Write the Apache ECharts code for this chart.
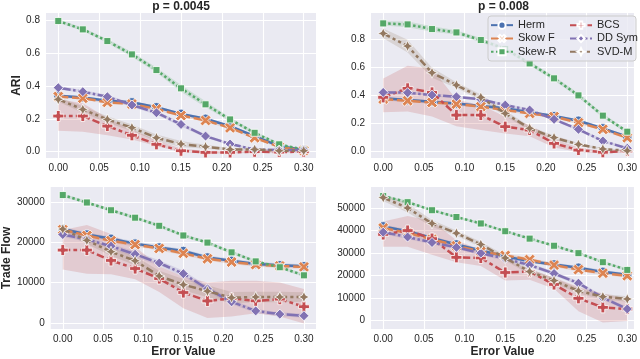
<!DOCTYPE html>
<html><head><meta charset="utf-8">
<script src="https://cdn.jsdelivr.net/npm/echarts@6/dist/echarts.min.js"></script>
<style>html,body{margin:0;padding:0;background:#fff}#c{width:640px;height:359px}</style>
</head><body><div id="c"></div>
<script>
// ---------- data ----------
const xVals = [0, 0.03, 0.06, 0.09, 0.12, 0.15, 0.18, 0.21, 0.24, 0.27, 0.30];
const seriesNames = ['Herm', 'Skow F', 'Skew-R', 'BCS', 'DD Sym', 'SVD-M'];
const xTicks = [0, 0.05, 0.10, 0.15, 0.20, 0.25, 0.30];
const ariTicks = [0, 0.2, 0.4, 0.6, 0.8];
const tfTicksA = [0, 10000, 20000, 30000];
const tfTicksB = [0, 10000, 20000, 30000, 40000, 50000];
const panelTitles = ['p = 0.0045', 'p = 0.008'];

// Panel 1: ARI, p = 0.0045
const ari1Herm   = [0.34, 0.33, 0.31, 0.30, 0.27, 0.23, 0.20, 0.155, 0.095, 0.034, 0.012];
const ari1HermCI = [0.008, 0.008, 0.008, 0.008, 0.008, 0.008, 0.008, 0.008, 0.007, 0.006, 0.004];
const ari1SkowF   = [0.335, 0.325, 0.30, 0.29, 0.26, 0.22, 0.19, 0.145, 0.085, 0.03, 0.008];
const ari1SkowFCI = [0.008, 0.008, 0.008, 0.008, 0.008, 0.008, 0.008, 0.008, 0.007, 0.006, 0.004];
const ari1SkewR   = [0.794, 0.743, 0.672, 0.591, 0.496, 0.385, 0.288, 0.196, 0.115, 0.045, 0.012];
const ari1SkewRCI = [0.01, 0.01, 0.012, 0.015, 0.015, 0.02, 0.018, 0.012, 0.01, 0.008, 0.005];
const ari1BCS   = [0.217, 0.217, 0.156, 0.10, 0.045, 0.006, -0.004, -0.004, 0.0, -0.002, 0.0];
const ari1BCSLo = [0.128, 0.122, 0.10, 0.075, 0.035, -0.002, -0.01, -0.01, -0.006, -0.008, -0.006];
const ari1BCSHi = [0.318, 0.295, 0.205, 0.135, 0.07, 0.02, 0.004, 0.004, 0.006, 0.004, 0.006];
const ari1DDSym   = [0.389, 0.365, 0.334, 0.284, 0.237, 0.166, 0.095, 0.047, 0.014, 0.01, 0.01];
const ari1DDSymCI = [0.01, 0.01, 0.01, 0.012, 0.012, 0.012, 0.01, 0.008, 0.005, 0.004, 0.004];
const ari1SVDM   = [0.318, 0.257, 0.196, 0.146, 0.085, 0.047, 0.03, 0.014, 0.014, 0.006, 0.006];
const ari1SVDMCI = [0.015, 0.02, 0.02, 0.02, 0.02, 0.018, 0.012, 0.008, 0.006, 0.004, 0.004];

// Panel 2: ARI, p = 0.008
const ari2Herm   = [0.379, 0.367, 0.355, 0.343, 0.324, 0.308, 0.28, 0.253, 0.22, 0.166, 0.106];
const ari2HermCI = [0.01, 0.01, 0.01, 0.01, 0.01, 0.01, 0.01, 0.01, 0.01, 0.01, 0.01];
const ari2SkowF   = [0.374, 0.362, 0.35, 0.338, 0.32, 0.296, 0.272, 0.249, 0.206, 0.159, 0.099];
const ari2SkowFCI = [0.01, 0.01, 0.01, 0.01, 0.01, 0.01, 0.01, 0.01, 0.01, 0.01, 0.01];
const ari2SkewR   = [0.911, 0.904, 0.871, 0.847, 0.793, 0.73, 0.627, 0.521, 0.40, 0.256, 0.142];
const ari2SkewRCI = [0.015, 0.02, 0.02, 0.015, 0.015, 0.015, 0.015, 0.015, 0.015, 0.015, 0.012];
const ari2BCS   = [0.386, 0.45, 0.421, 0.26, 0.26, 0.178, 0.154, 0.059, 0.012, -0.004, 0.005];
const ari2BCSLo = [0.28, 0.285, 0.25, 0.18, 0.155, 0.13, 0.11, 0.03, -0.002, -0.012, -0.006];
const ari2BCSHi = [0.52, 0.61, 0.59, 0.37, 0.33, 0.25, 0.19, 0.09, 0.03, 0.006, 0.016];
const ari2DDSym   = [0.421, 0.419, 0.402, 0.39, 0.372, 0.331, 0.296, 0.23, 0.159, 0.076, 0.024];
const ari2DDSymCI = [0.01, 0.01, 0.01, 0.01, 0.01, 0.01, 0.01, 0.01, 0.01, 0.01, 0.008];
const ari2SVDM   = [0.84, 0.75, 0.561, 0.473, 0.386, 0.272, 0.166, 0.10, 0.052, 0.019, 0.007];
const ari2SVDMCI = [0.035, 0.045, 0.035, 0.02, 0.02, 0.02, 0.015, 0.015, 0.01, 0.008, 0.005];

// Panel 3: Trade Flow, p = 0.0045
const tf1Herm   = [23320, 21960, 20910, 19700, 18740, 17860, 16250, 15440, 14640, 14320, 14080];
const tf1HermCI = [500, 500, 500, 500, 500, 500, 500, 500, 500, 500, 500];
const tf1SkowF   = [23160, 21720, 20430, 19460, 18500, 17290, 15930, 15120, 14480, 14160, 13910];
const tf1SkowFCI = [500, 500, 500, 500, 500, 500, 500, 500, 500, 500, 500];
const tf1SkewR   = [31770, 29920, 27990, 26140, 24130, 21720, 19950, 17530, 15280, 13830, 11820];
const tf1SkewRCI = [400, 400, 400, 400, 400, 400, 400, 400, 400, 400, 400];
const tf1BCS   = [18100, 18100, 15520, 13510, 11020, 7550, 5450, 6100, 5470, 5900, 4020];
const tf1BCSLo = [13270, 12230, 12060, 10860, 7650, 3620, 1210, 1610, 2410, 1610, -150];
const tf1BCSHi = [23100, 24300, 22100, 18900, 14100, 11500, 10050, 10460, 10460, 10050, 8440];
const tf1DDSym   = [21960, 20750, 19060, 17050, 14880, 12230, 8450, 5230, 2980, 2170, 1770];
const tf1DDSymCI = [600, 600, 600, 700, 700, 700, 700, 600, 500, 500, 500];
const tf1SVDM   = [23320, 20510, 17690, 15440, 11660, 9490, 7880, 6270, 6430, 6430, 6430];
const tf1SVDMCI = [700, 900, 1000, 1100, 1300, 1400, 1500, 1400, 1300, 1300, 1200];

// Panel 4: Trade Flow, p = 0.008
const tf2Herm   = [41820, 39660, 36640, 33770, 31040, 28450, 26300, 24860, 23420, 21560, 20260];
const tf2HermCI = [800, 800, 800, 800, 800, 800, 800, 800, 800, 800, 800];
const tf2SkowF   = [41100, 38940, 36070, 33190, 30610, 28880, 27020, 24570, 22560, 20980, 19830];
const tf2SkowFCI = [800, 800, 800, 800, 800, 800, 800, 800, 800, 800, 800];
const tf2SkewR   = [55300, 52590, 49000, 45980, 43100, 39650, 36350, 33190, 29890, 25870, 22420];
const tf2SkewRCI = [600, 600, 600, 600, 600, 600, 600, 600, 600, 600, 600];
const tf2BCS   = [38220, 39950, 36360, 28020, 27730, 21270, 21700, 15950, 9770, 5750, 5030];
const tf2BCSLo = [32750, 32750, 29140, 25860, 24130, 17670, 18100, 14050, 4010, -1030, -300];
const tf2BCSHi = [43960, 46380, 44220, 35600, 31290, 26980, 22670, 19090, 14780, 11900, 9500];
const tf2DDSym   = [39230, 37070, 34630, 32480, 29890, 27450, 24570, 20840, 16530, 10060, 5030];
const tf2DDSymCI = [900, 900, 900, 900, 900, 900, 900, 900, 900, 900, 900];
const tf2SVDM   = [54610, 50010, 43110, 38800, 33770, 27730, 21700, 17670, 13080, 10490, 9480];
const tf2SVDMCI = [1500, 2000, 1500, 1200, 1200, 1200, 1200, 1200, 1200, 1200, 1200];

// ---------- styles ----------
const colors = ['#4C72B0', '#DD8452', '#55A868', '#C44E52', '#8172B3', '#937860'];
const LW = 2.5;
const dashes = ['solid', [4 * LW, 1.5 * LW], [1 * LW, 1 * LW], [3 * LW, 1.25 * LW, 1.5 * LW, 1.25 * LW],
  [5 * LW, 1 * LW, 1 * LW, 1 * LW], [3 * LW, 1.25 * LW, 1.25 * LW, 1.25 * LW, 1.25 * LW, 1.25 * LW]];
const symX = 'path://M0.22,0 L0.5,0.28 L0.78,0 L1,0.22 L0.72,0.5 L1,0.78 L0.78,1 L0.5,0.72 L0.22,1 L0,0.78 L0.28,0.5 L0,0.22 Z';
const symP = 'path://M0.33,0 L0.67,0 L0.67,0.33 L1,0.33 L1,0.67 L0.67,0.67 L0.67,1 L0.33,1 L0.33,0.67 L0,0.67 L0,0.33 L0.33,0.33 Z';
const symStar4 = 'path://M0.5,0 L0.66,0.34 L1,0.5 L0.66,0.66 L0.5,1 L0.34,0.66 L0,0.5 L0.34,0.34 Z';
const symbols = ['circle', symX, 'rect', symP, 'diamond', symStar4];
const symSizes = [9.5, 11, 7, 11, 10, 11];

const panels = [
  { grid: {left: 46, top: 13, width: 270, height: 145}, xmax: 0.315, ymin: -0.038, ymax: 0.8425, ticks: ariTicks, fmt: v => v.toFixed(1),
    vals: [ari1Herm, ari1SkowF, ari1SkewR, ari1BCS, ari1DDSym, ari1SVDM],
    los: [null, null, null, ari1BCSLo, null, null], his: [null, null, null, ari1BCSHi, null, null],
    cis: [ari1HermCI, ari1SkowFCI, ari1SkewRCI, null, ari1DDSymCI, ari1SVDMCI],
    title: panelTitles[0], yName: 'ARI', yNameGap: 23, xName: '' },
  { grid: {left: 371, top: 13, width: 265, height: 145}, xmax: 0.3082, ymin: -0.0447, ymax: 0.985, ticks: ariTicks, fmt: v => v.toFixed(1),
    vals: [ari2Herm, ari2SkowF, ari2SkewR, ari2BCS, ari2DDSym, ari2SVDM],
    los: [null, null, null, ari2BCSLo, null, null], his: [null, null, null, ari2BCSHi, null, null],
    cis: [ari2HermCI, ari2SkowFCI, ari2SkewRCI, null, ari2DDSymCI, ari2SVDMCI],
    title: panelTitles[1], yName: '', yNameGap: 0, xName: '' },
  { grid: {left: 46, top: 187, width: 270, height: 146}, xmax: 0.315, ymin: -1520, ymax: 33770, ticks: tfTicksA, fmt: v => String(v),
    vals: [tf1Herm, tf1SkowF, tf1SkewR, tf1BCS, tf1DDSym, tf1SVDM],
    los: [null, null, null, tf1BCSLo, null, null], his: [null, null, null, tf1BCSHi, null, null],
    cis: [tf1HermCI, tf1SkowFCI, tf1SkewRCI, null, tf1DDSymCI, tf1SVDMCI],
    title: '', yName: 'Trade Flow', yNameGap: 36, xName: 'Error Value' },
  { grid: {left: 371, top: 187, width: 265, height: 146}, xmax: 0.3082, ymin: -3880, ymax: 59340, ticks: tfTicksB, fmt: v => String(v),
    vals: [tf2Herm, tf2SkowF, tf2SkewR, tf2BCS, tf2DDSym, tf2SVDM],
    los: [null, null, null, tf2BCSLo, null, null], his: [null, null, null, tf2BCSHi, null, null],
    cis: [tf2HermCI, tf2SkowFCI, tf2SkewRCI, null, tf2DDSymCI, tf2SVDMCI],
    title: '', yName: '', yNameGap: 0, xName: 'Error Value' }
];

const textColor = '#262626';
const font = 'Liberation Sans, Arial, Helvetica, sans-serif';

function hexA(hex, a) {
  const n = parseInt(hex.slice(1), 16);
  return 'rgba(' + ((n >> 16) & 255) + ',' + ((n >> 8) & 255) + ',' + (n & 255) + ',' + a + ')';
}

const grids = [], xAxes = [], yAxes = [], series = [], titles = [];
panels.forEach((p, pi) => {
  grids.push(Object.assign({show: true, backgroundColor: '#EAEAF2', borderWidth: 0}, p.grid));
  xAxes.push({
    type: 'value', gridIndex: pi, min: -0.015, max: p.xmax,
    axisLine: {show: false}, axisTick: {show: false, customValues: xTicks},
    axisLabel: {customValues: xTicks, formatter: v => v.toFixed(2), fontSize: 10, color: textColor, margin: 5, fontFamily: font},
    splitLine: {show: true, lineStyle: {color: '#ffffff', width: 1.1}},
    name: p.xName, nameLocation: 'middle', nameGap: 17,
    nameTextStyle: {fontSize: 12, fontWeight: 'bold', color: textColor, fontFamily: font}
  });
  yAxes.push({
    type: 'value', gridIndex: pi, min: p.ymin, max: p.ymax,
    axisLine: {show: false}, axisTick: {show: false, customValues: p.ticks},
    axisLabel: {customValues: p.ticks, formatter: p.fmt, fontSize: 10, color: textColor, margin: 6, fontFamily: font},
    splitLine: {show: true, lineStyle: {color: '#ffffff', width: 1.1}},
    name: p.yName, nameLocation: 'middle', nameGap: p.yNameGap,
    nameTextStyle: {fontSize: 12, fontWeight: 'bold', color: textColor, fontFamily: font}
  });
  if (p.title) {
    titles.push({text: p.title, left: p.grid.left + p.grid.width / 2, top: 1, textAlign: 'center', padding: 0,
      textStyle: {fontSize: 12, fontWeight: 'bold', color: textColor, fontFamily: font}});
  }
  // confidence bands
  seriesNames.forEach((nm, k) => {
    const v = p.vals[k];
    const lo = p.los[k] || v.map((y, i) => y - p.cis[k][i]);
    const hi = p.his[k] || v.map((y, i) => y + p.cis[k][i]);
    series.push({
      type: 'custom', xAxisIndex: pi, yAxisIndex: pi, silent: true, z: 1, animation: false,
      data: xVals.map((x, i) => [x, lo[i], hi[i]]),
      encode: {x: 0, y: [1, 2]},
      renderItem: function (params, api) {
        if (params.dataIndex !== 0) return null;
        const pts = [];
        for (let i = 0; i < xVals.length; i++) pts.push(api.coord([xVals[i], lo[i]]));
        for (let i = xVals.length - 1; i >= 0; i--) pts.push(api.coord([xVals[i], hi[i]]));
        return {type: 'polygon', shape: {points: pts}, style: {fill: hexA(colors[k], 0.2)}};
      }
    });
  });
  seriesNames.forEach((nm, k) => {
    series.push({
      type: 'line', name: nm, xAxisIndex: pi, yAxisIndex: pi, z: 2 + k, animation: false,
      data: xVals.map((x, i) => [x, p.vals[k][i]]),
      symbol: symbols[k], symbolSize: symSizes[k], symbolKeepAspect: true, showSymbol: true, showAllSymbol: true,
      lineStyle: {color: colors[k], width: LW, type: dashes[k]},
      itemStyle: {color: colors[k], borderColor: '#ffffff', borderWidth: 0.8},
      emphasis: {disabled: true}
    });
  });
});

const legendCommon = {
  orient: 'vertical', top: 18.5, itemWidth: 22, itemHeight: 9, itemGap: 0, padding: 0, z: 20,
  selectedMode: false,
  textStyle: {fontSize: 11, lineHeight: 13.3, color: textColor, fontFamily: font}
};

const chart = echarts.init(document.getElementById('c'), null, {renderer: 'canvas'});
chart.setOption({
  animation: false,
  textStyle: {fontFamily: font},
  title: titles,
  grid: grids,
  xAxis: xAxes,
  yAxis: yAxes,
  legend: [
    Object.assign({left: 490, data: seriesNames.slice(0, 3)}, legendCommon),
    Object.assign({left: 569, data: seriesNames.slice(3, 6)}, legendCommon)
  ],
  graphic: [{
    type: 'rect', z: 15, silent: true,
    shape: {x: 488, y: 16, width: 148, height: 45, r: 3},
    style: {fill: 'rgba(234,234,242,0.8)', stroke: '#cccccc', lineWidth: 1}
  }],
  series: series
});
</script>
</body></html>
